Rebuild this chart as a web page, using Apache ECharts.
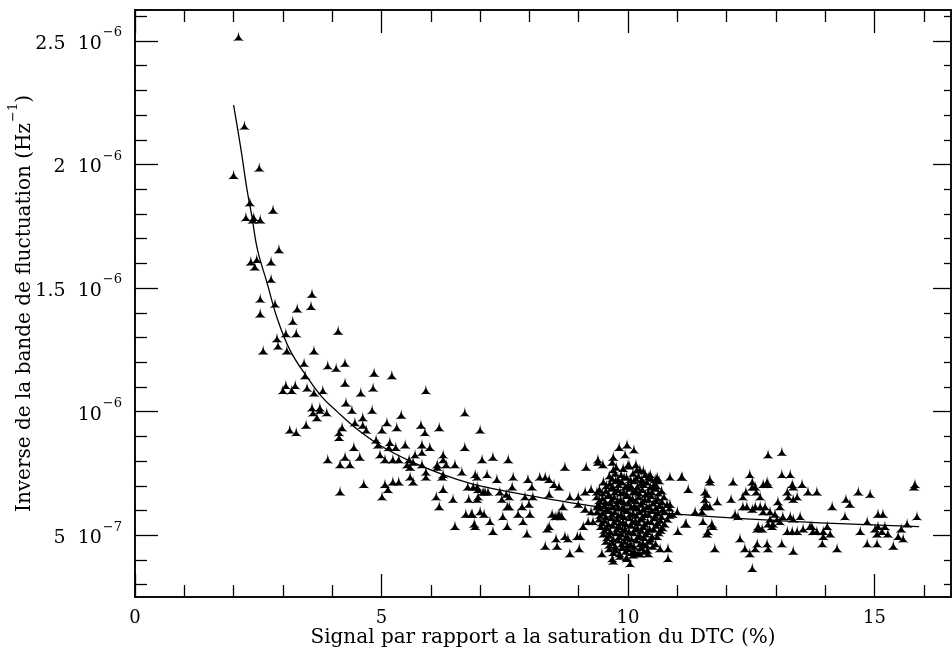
<!DOCTYPE html>
<html>
<head>
<meta charset="utf-8">
<script src="https://cdn.jsdelivr.net/npm/echarts@6/dist/echarts.min.js"></script>
<style>
    html, body { margin: 0; padding: 0; background: #fff; }
    #chart { width: 952px; height: 655px; }
</style>
</head>
<body>
<div id="chart"></div>
<script>
// mesures : [signal (% saturation), inverse de la bande (unites de 1e-6 Hz^-1)]
const mesures = [
    [2.10,2.52],[2.00,1.96],[2.22,2.16],[2.52,1.99],
    [2.33,1.85],[2.25,1.79],[2.41,1.79],[2.54,1.78],[2.39,1.78],[2.80,1.82],[2.92,1.66],
    [2.35,1.61],[2.47,1.62],[2.43,1.59],[2.76,1.61],[2.76,1.54],[2.54,1.46],[2.54,1.40],[2.84,1.44],
    [3.59,1.48],[3.57,1.43],[3.29,1.42],[3.20,1.37],[3.06,1.32],[3.27,1.32],[2.88,1.30],[2.90,1.27],[3.08,1.25],[2.60,1.25],[3.63,1.25],[4.12,1.33],
    [3.43,1.20],[3.91,1.19],[4.08,1.18],[4.26,1.20],[3.45,1.15],[4.85,1.16],[5.21,1.15],
    [3.06,1.11],[3.25,1.11],[3.00,1.09],[3.18,1.09],[3.49,1.10],[3.63,1.08],[3.81,1.09],[4.26,1.12],[4.58,1.08],[4.83,1.10],[5.90,1.09],
    [4.28,1.04],[3.59,1.02],[3.75,1.02],[3.61,1.00],[3.75,1.01],[3.89,1.00],[3.69,0.98],[4.40,1.01],[4.81,1.01],[6.69,1.00],
    [3.47,0.95],[3.14,0.93],[3.27,0.92],[4.20,0.94],[4.14,0.92],[4.14,0.90],[4.46,0.96],[4.62,0.98],[4.62,0.95],[4.69,0.93],[5.11,0.96],[5.40,0.99],[5.31,0.94],[5.01,0.93],[5.80,0.95],[5.88,0.92],[6.17,0.94],[7.00,0.93],
    [4.89,0.89],[4.93,0.87],[5.17,0.88],[5.15,0.86],[5.29,0.86],[5.48,0.87],[4.44,0.86],[5.82,0.87],[5.98,0.86],[5.68,0.83],[5.82,0.84],[6.69,0.86],
    [3.91,0.81],[4.26,0.82],[4.56,0.82],[4.16,0.79],[4.36,0.79],[4.97,0.83],[5.07,0.81],[5.23,0.81],[5.35,0.81],[5.56,0.81],[5.64,0.80],[5.52,0.79],[5.58,0.78],[5.82,0.79],[6.25,0.83],[6.25,0.81],[6.13,0.79],[6.13,0.78],[6.31,0.79],[6.49,0.79],[6.63,0.76],[5.90,0.76],[5.90,0.74],[6.25,0.75],[6.23,0.74],[7.04,0.81],[7.26,0.82],[6.90,0.75],[6.94,0.74],[7.14,0.75],[7.34,0.73],
    [5.58,0.74],[5.64,0.72],[5.23,0.72],[5.35,0.72],[5.07,0.71],[5.13,0.69],[4.64,0.71],[4.16,0.68],[5.01,0.66],[6.25,0.69],[6.11,0.66],[6.17,0.62],[6.45,0.65],[6.75,0.70],[6.94,0.70],[7.06,0.68],[6.77,0.65],[6.96,0.66],[6.71,0.59],[6.82,0.59],[7.00,0.60],[7.08,0.59],[7.20,0.56],[6.49,0.54],[6.88,0.55],[7.26,0.52],
    [7.57,0.81],[7.67,0.74],[7.97,0.73],[8.21,0.74],[8.32,0.74],[8.40,0.73],[8.50,0.71],[8.60,0.70],[6.86,0.70],[6.96,0.69],[7.10,0.68],[7.16,0.68],[7.40,0.68],[7.53,0.67],[7.65,0.70],[7.59,0.66],[8.05,0.70],[8.07,0.66],[7.91,0.66],[8.40,0.67],[8.72,0.78],[9.15,0.78],[8.82,0.66],[8.99,0.66],[9.13,0.68],[9.25,0.69],[9.37,0.68],[9.39,0.80],
    [6.94,0.65],[7.44,0.65],[7.55,0.62],[7.59,0.62],[7.85,0.62],[7.99,0.63],[7.77,0.59],[8.01,0.59],[6.84,0.59],[7.46,0.58],[6.90,0.54],[7.55,0.54],[7.87,0.56],[7.95,0.51],
    [8.46,0.59],[8.56,0.58],[8.60,0.59],[8.52,0.58],[8.64,0.58],[8.40,0.54],[8.36,0.53],[8.32,0.46],[8.54,0.49],[8.56,0.46],[8.72,0.50],[8.78,0.49],[8.97,0.50],[9.03,0.50],[8.82,0.43],[9.01,0.45],
    [8.99,0.63],[9.13,0.61],[9.25,0.60],[9.37,0.62],[9.09,0.54],[9.19,0.56],[9.29,0.56],[8.68,0.62],[8.66,0.58],
    [9.82,0.86],[9.98,0.87],[10.12,0.85],[9.94,0.83],[9.70,0.82],[9.68,0.80],[9.70,0.77],[9.39,0.81],[9.49,0.79],[10.00,0.79],[10.16,0.79],[10.24,0.77],[10.45,0.75],[10.59,0.74],[10.85,0.74],[11.08,0.74],[11.22,0.69],
    [10.85,0.63],[11.00,0.60],[11.18,0.55],[11.01,0.52],
    [9.47,0.43],[9.68,0.41],[9.70,0.40],[9.98,0.41],[10.04,0.39],[10.24,0.43],[10.41,0.43],[10.81,0.41],[10.65,0.45],[10.81,0.45],
    // amas dense autour de 10 %
    [9.76,0.78],[9.90,0.775],[10.03,0.785],[10.18,0.77],[10.31,0.765],
    [9.62,0.745],[9.74,0.755],[9.86,0.75],[9.97,0.74],[10.10,0.755],[10.21,0.745],[10.35,0.75],[10.47,0.735],
    [9.68,0.735],[9.80,0.73],[9.92,0.74],[10.05,0.73],[10.16,0.735],[10.28,0.73],[10.41,0.74],[10.55,0.73],
    [9.50,0.72],[9.63,0.715],[9.75,0.725],[9.88,0.72],[10.00,0.71],[10.12,0.725],[10.26,0.715],[10.38,0.72],[10.52,0.71],[10.63,0.725],
    [9.56,0.705],[9.69,0.70],[9.81,0.71],[9.94,0.70],[10.06,0.705],[10.19,0.70],[10.32,0.71],[10.45,0.70],[10.58,0.705],
    [9.42,0.69],[9.55,0.685],[9.66,0.695],[9.79,0.69],[9.91,0.68],[10.04,0.695],[10.16,0.685],[10.29,0.69],[10.41,0.68],[10.55,0.695],[10.68,0.685],
    [9.48,0.675],[9.61,0.67],[9.73,0.68],[9.85,0.675],[9.98,0.67],[10.10,0.68],[10.23,0.675],[10.35,0.67],[10.49,0.68],[10.62,0.675],
    [9.36,0.66],[9.48,0.655],[9.60,0.665],[9.72,0.66],[9.85,0.65],[9.97,0.665],[10.09,0.655],[10.22,0.66],[10.34,0.65],[10.47,0.665],[10.60,0.655],[10.73,0.66],
    [9.42,0.645],[9.54,0.64],[9.67,0.65],[9.79,0.645],[9.91,0.64],[10.04,0.65],[10.16,0.645],[10.29,0.64],[10.42,0.65],[10.56,0.645],[10.69,0.64],
    [9.40,0.63],[9.52,0.625],[9.64,0.635],[9.77,0.63],[9.89,0.62],[10.01,0.635],[10.13,0.625],[10.26,0.63],[10.38,0.62],[10.51,0.635],[10.64,0.625],[10.79,0.63],
    [9.44,0.615],[9.56,0.61],[9.68,0.62],[9.80,0.615],[9.93,0.61],[10.06,0.62],[10.18,0.615],[10.30,0.61],[10.43,0.62],[10.56,0.615],[10.70,0.61],[10.84,0.615],
    [9.37,0.60],[9.49,0.595],[9.61,0.605],[9.73,0.60],[9.86,0.59],[9.98,0.605],[10.10,0.595],[10.23,0.60],[10.35,0.59],[10.48,0.605],[10.61,0.595],[10.74,0.60],[10.90,0.59],
    [9.43,0.585],[9.55,0.58],[9.67,0.59],[9.80,0.585],[9.92,0.58],[10.04,0.59],[10.17,0.585],[10.29,0.58],[10.42,0.59],[10.55,0.585],[10.68,0.58],[10.84,0.585],
    [9.41,0.57],[9.53,0.565],[9.66,0.575],[9.78,0.57],[9.90,0.56],[10.03,0.575],[10.15,0.565],[10.27,0.57],[10.40,0.56],[10.53,0.575],[10.66,0.565],[10.80,0.57],
    [9.47,0.555],[9.60,0.55],[9.72,0.56],[9.84,0.555],[9.96,0.55],[10.09,0.56],[10.21,0.555],[10.34,0.55],[10.47,0.56],[10.60,0.555],[10.74,0.55],
    [9.45,0.54],[9.57,0.535],[9.69,0.545],[9.82,0.54],[9.94,0.53],[10.06,0.545],[10.19,0.535],[10.31,0.54],[10.44,0.53],[10.57,0.545],[10.70,0.535],
    [9.52,0.525],[9.64,0.52],[9.77,0.53],[9.89,0.525],[10.02,0.52],[10.14,0.53],[10.27,0.525],[10.39,0.52],[10.52,0.53],[10.66,0.525],
    [9.50,0.51],[9.62,0.505],[9.75,0.515],[9.87,0.51],[9.99,0.50],[10.11,0.515],[10.24,0.505],[10.36,0.51],[10.49,0.50],[10.62,0.515],
    [9.57,0.495],[9.70,0.49],[9.82,0.50],[9.95,0.495],[10.07,0.49],[10.20,0.50],[10.33,0.495],[10.46,0.49],[10.59,0.50],
    [9.55,0.48],[9.68,0.475],[9.80,0.485],[9.93,0.48],[10.05,0.47],[10.17,0.485],[10.30,0.475],[10.43,0.48],[10.56,0.47],
    [9.62,0.465],[9.74,0.46],[9.87,0.47],[9.99,0.465],[10.12,0.46],[10.24,0.47],[10.37,0.465],[10.50,0.46],
    [9.62,0.45],[9.75,0.445],[9.88,0.455],[10.00,0.45],[10.13,0.44],[10.26,0.455],[10.39,0.445],
    [9.70,0.435],[9.83,0.43],[9.95,0.44],[10.08,0.435],[10.20,0.43],[10.32,0.44],
    [9.84,0.42],[9.97,0.415],[10.10,0.425],
    [12.84,0.83],[13.12,0.84],[11.10,0.74],[11.66,0.73],[11.66,0.72],[12.13,0.72],[12.47,0.75],[13.12,0.75],[13.29,0.75],[13.33,0.71],[13.35,0.70],[13.53,0.71],[13.65,0.68],[13.83,0.68],[12.74,0.71],[12.84,0.71],
    [12.58,0.70],[12.52,0.72],[12.82,0.72],
    [11.56,0.68],[11.60,0.67],[11.56,0.65],[11.58,0.63],[11.66,0.62],[11.54,0.62],[11.81,0.64],[12.09,0.65],[12.33,0.66],[12.39,0.68],[12.52,0.70],[12.60,0.68],[12.68,0.66],[13.23,0.68],[13.25,0.66],[13.35,0.65],[13.43,0.66],[13.04,0.64],[13.08,0.62],[11.36,0.60],[11.50,0.60],
    [12.33,0.62],[12.41,0.62],[12.52,0.61],[12.58,0.62],[12.68,0.62],[12.74,0.60],[12.78,0.62],[12.17,0.59],[12.23,0.58],
    [12.88,0.60],[12.98,0.59],[13.02,0.57],[12.88,0.57],[12.94,0.55],[13.08,0.56],[13.14,0.58],[13.29,0.58],[13.35,0.57],[13.49,0.58],
    [11.16,0.55],[11.52,0.56],[11.70,0.55],[11.72,0.54],[11.62,0.52],[11.60,0.51],
    [12.64,0.54],[12.72,0.53],[12.62,0.53],[12.84,0.55],[12.92,0.54],
    [13.23,0.52],[13.33,0.52],[13.43,0.52],[13.55,0.53],[13.69,0.54],[13.83,0.52],
    [12.27,0.49],[12.62,0.47],[12.58,0.45],[12.82,0.47],[12.84,0.45],[13.12,0.47],[13.35,0.44],[12.37,0.45],[12.47,0.43],[11.76,0.45],[12.52,0.37],
    [14.14,0.62],[14.42,0.65],[14.50,0.63],[14.67,0.68],[14.91,0.67],[14.40,0.58],[14.85,0.56],[15.07,0.59],[15.17,0.59],[15.82,0.71],[15.80,0.70],[15.86,0.58],
    [13.73,0.54],[13.75,0.52],[13.96,0.52],[14.04,0.54],[14.10,0.51],[13.96,0.50],[13.94,0.47],[14.24,0.45],
    [14.71,0.52],[14.85,0.47],[15.05,0.47],[15.01,0.53],[15.07,0.54],[15.15,0.52],[15.05,0.51],[15.21,0.54],[15.27,0.51],
    [15.38,0.46],[15.48,0.50],[15.58,0.49],[15.54,0.53],[15.66,0.55]
];

// courbe ajustee
const ajustX = [2.0, 2.15, 2.27, 2.37, 2.49, 2.68, 2.88, 3.14, 3.49, 3.79, 4.10, 4.50, 5.00, 5.58, 6.25, 6.80, 7.46, 8.15, 8.82, 9.43, 10.3, 11.2, 12.5, 13.9, 15.9];
const ajustY = [2.24, 2.06, 1.90, 1.79, 1.65, 1.52, 1.38, 1.25, 1.14, 1.06, 1.00, 0.93, 0.86, 0.80, 0.745, 0.71, 0.68, 0.655, 0.632, 0.615, 0.598, 0.582, 0.565, 0.55, 0.535];

// graduations
const xMajeures = [0, 5, 10, 15];
const xMineures = [1, 2, 3, 4, 6, 7, 8, 9, 11, 12, 13, 14, 16];
const yMajeures = [0.5, 1, 1.5, 2, 2.5];
const yMineures = [0.3, 0.4, 0.6, 0.7, 0.8, 0.9, 1.1, 1.2, 1.3, 1.4, 1.6, 1.7, 1.8, 1.9, 2.1, 2.2, 2.3, 2.4, 2.6];
const yMantisse = ['5', '', '1.5', '2', '2.5'];
const yExposant = ['\u22127', '\u22126', '\u22126', '\u22126', '\u22126'];

const police = '"DejaVu Serif", serif';
const noir = '#000';
const xMin = 0, xMax = 16.55, yMin = 0.25, yMax = 2.625;

let chart = echarts.init(document.getElementById('chart'));

function axeX(pos, valeurs, longueur, labels) {
    return {
        type: 'value', position: pos, min: xMin, max: xMax,
        axisLine: { show: true, onZero: false, lineStyle: { color: noir, width: 1.5 } },
        axisTick: { show: true, inside: true, length: longueur, customValues: valeurs, lineStyle: { color: noir, width: 1.3 } },
        axisLabel: labels ? { show: true, customValues: valeurs, margin: 12, fontFamily: police, fontSize: 18, color: noir } : { show: false },
        splitLine: { show: false }
    };
}

function axeY(pos, valeurs, longueur, labels) {
    return {
        type: 'value', position: pos, min: yMin, max: yMax,
        axisLine: { show: true, onZero: false, lineStyle: { color: noir, width: 1.5 } },
        axisTick: { show: true, inside: true, length: longueur, customValues: valeurs, lineStyle: { color: noir, width: 1.3 } },
        axisLabel: labels ? {
            show: true, customValues: valeurs, margin: 13,
            formatter: function (v) {
                let i = yMajeures.findIndex(m => Math.abs(m - v) < 1e-6);
                let m = yMantisse[i] ? yMantisse[i] + '  ' : '';
                return '{m|' + m + '10}{e|' + yExposant[i] + '}';
            },
            rich: {
                m: { fontFamily: police, fontSize: 19, color: noir, padding: [6, 0, 0, 0] },
                e: { fontFamily: police, fontSize: 13, color: noir, padding: [0, 0, 16, 1] }
            }
        } : { show: false },
        splitLine: { show: false }
    };
}

let xBas = axeX('bottom', xMajeures, 23, true);
xBas.name = 'Signal par rapport a la saturation du DTC (%)';
xBas.nameLocation = 'middle';
xBas.nameGap = 31;
xBas.nameMoveOverlap = false;
xBas.nameTextStyle = { fontFamily: police, fontSize: 20, color: noir };

let yGauche = axeY('left', yMajeures, 23, true);
yGauche.name = '{t|Inverse de la bande de fluctuation (Hz}{e|\u22121}{t|)}';
yGauche.nameLocation = 'middle';
yGauche.nameGap = 99;
yGauche.nameMoveOverlap = false;
yGauche.nameTextStyle = {
    rich: {
        t: { fontFamily: police, fontSize: 20, color: noir, padding: [6, 0, 0, 0] },
        e: { fontFamily: police, fontSize: 13, color: noir, padding: [0, 0, 16, 1] }
    }
};

let option = {
    animation: false,
    backgroundColor: '#fff',
    grid: { left: 135, right: 1, top: 10, bottom: 58, containLabel: false, outerBoundsMode: 'none' },
    xAxis: [
        xBas,
        axeX('bottom', xMineures, 12, false),
        axeX('top', xMajeures, 23, false),
        axeX('top', xMineures, 12, false)
    ],
    yAxis: [
        yGauche,
        axeY('left', yMineures, 12, false),
        axeY('right', yMajeures, 18, false),
        axeY('right', yMineures, 7, false)
    ],
    series: [{
        type: 'scatter',
        data: mesures,
        symbol: 'path://M5,0 C5.3,4 6.5,6.5 10,9 C7,8.6 3,8.6 0,9 C3.5,6.5 4.7,4 5,0 Z',
        symbolSize: [11, 10],
        itemStyle: { color: noir, opacity: 1 },
        z: 3
    }, {
        type: 'line',
        data: ajustX.map((x, i) => [x, ajustY[i]]),
        smooth: 0.4,
        showSymbol: false,
        lineStyle: { color: noir, width: 1.3 },
        z: 4
    }]
};
chart.setOption(option);
</script>
</body>
</html>
